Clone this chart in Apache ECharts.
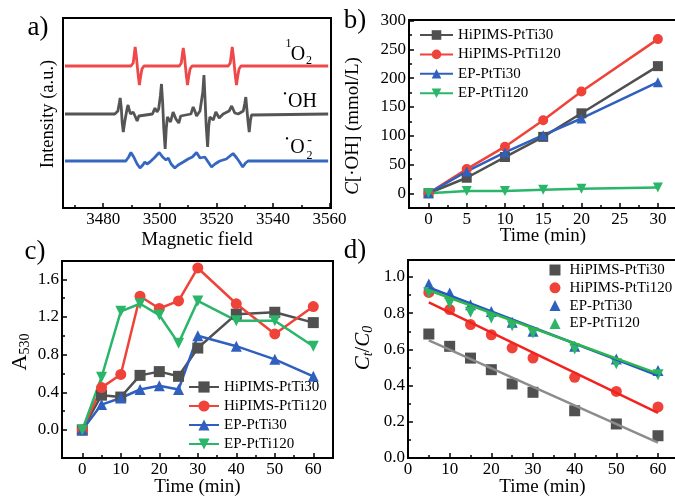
<!DOCTYPE html>
<html>
<head>
<meta charset="utf-8">
<script src="https://cdn.jsdelivr.net/npm/echarts@6/dist/echarts.min.js"></script>
<style>
    html, body { margin: 0; padding: 0; background: #fff; }
    #main { width: 675px; height: 498px; }
</style>
</head>
<body>
<div id="main"></div>
<script>
// ---- a) EPR spectra, [field, intensity above its own baseline] ----
var spec1O2 = [[3466.5,0],[3489.8,0],[3490.6,3],[3491.0,12],[3491.3,19],[3491.7,10],[3492.05,0],[3492.4,-10],[3492.8,-19],[3493.2,-11],[3493.7,-3],[3494.4,0],
    [3506.9,0],[3507.6,3],[3508.0,12],[3508.3,18],[3508.7,10],[3509.05,0],[3509.4,-10],[3509.8,-19],[3510.2,-11],[3510.7,-3],[3511.4,0],
    [3524.2,0],[3524.9,3],[3525.3,12],[3525.6,19],[3526.0,10],[3526.35,0],[3526.7,-10],[3527.1,-19],[3527.5,-11],[3528.0,-3],[3528.7,0],[3559.5,0]];
var specOH = [[3466.5,0],[3484.1,0],[3485.2,3],[3485.7,11],[3486.0,16],[3486.4,6],[3486.7,-8],[3487.1,-18],[3487.6,-8],[3488.1,0],[3488.5,6],[3488.8,9],[3489.2,4],[3489.7,0],[3490.6,2],[3491.4,-3],[3492.0,-7],[3492.6,-2],[3493.1,0],
    [3497.4,0],[3498.3,6],[3499.0,2],[3499.6,5],[3500.2,18],[3500.6,30],[3501.0,12],[3501.4,-14],[3501.9,-35],[3502.3,-14],[3502.7,-3],[3503.3,-5],[3503.8,-8],[3504.7,2],[3505.7,-5],[3506.7,-9],[3507.4,-2],[3507.9,0],
    [3511.0,0],[3511.8,7],[3512.4,3],[3513.0,-2],[3514.2,3],[3515.2,22],[3515.6,39],[3516.0,15],[3516.4,-12],[3516.9,-33],[3517.3,-12],[3517.7,-3],[3518.9,-6],[3519.8,2],[3521.0,-4],[3522.4,0],
    [3524.5,3],[3525.4,8],[3526.5,1],[3527.7,0],[3529.5,3],[3530.0,10],[3530.4,17],[3530.8,4],[3531.2,-8],[3531.6,-18],[3532.0,-7],[3532.4,-1],[3533.0,0],[3559.5,0]];
var specO2 = [[3466.5,0],[3488.0,0],[3489.0,4],[3489.8,8.5],[3490.8,4],[3492.0,-3],[3493.0,-7],[3494.0,-4],[3494.7,-1],[3495.5,-3],[3496.5,-1],[3498.0,3],[3499.8,8.5],[3501.0,4],[3502.2,1],[3503.0,3],[3504.0,-3],[3505.3,-7],[3506.5,-4],[3508.3,-1],
    [3510.0,2],[3511.5,4],[3513.0,8.5],[3514.2,3],[3514.8,2],[3515.9,4],[3517.1,-1],[3518.3,-6],[3519.5,-3],[3521.2,0],[3523.5,2],[3525.9,7.5],[3527.2,3],[3528.2,-1],[3529.3,-6],[3530.3,-2],[3531.2,0],[3559.5,0]];
var specOffsets = [142, 94, 47];
var fieldTicks = [3480, 3500, 3520, 3540, 3560];
var fieldMinor = [3470, 3490, 3510, 3530, 3550];

// ---- b) C[.OH] vs time ----
var timeB = [0, 5, 10, 15, 20, 30];
var bHiPIMS30 = [0, 27, 63, 98, 139, 221];
var bHiPIMS120 = [0, 42, 81, 127, 177, 268];
var bEP30 = [0, 38, 71, 101, 130, 193];
var bEP120 = [0, 4, 4, 6, 8, 10];
var bxTicks = [0, 5, 10, 15, 20, 25, 30];
var bxMinor = [2.5, 7.5, 12.5, 17.5, 22.5, 27.5];
var byTicks = [0, 50, 100, 150, 200, 250, 300];
var byMinor = [25, 75, 125, 175, 225, 275];

// ---- c) A530 vs time ----
var timeC = [0, 5, 10, 15, 20, 25, 30, 40, 50, 60];
var cHiPIMS30 = [0, 0.37, 0.35, 0.58, 0.62, 0.57, 0.87, 1.23, 1.25, 1.14];
var cHiPIMS120 = [0, 0.45, 0.59, 1.42, 1.29, 1.37, 1.72, 1.34, 1.02, 1.31];
var cEP30 = [0, 0.27, 0.34, 0.43, 0.47, 0.43, 1.0, 0.89, 0.75, 0.57];
var cEP120 = [0, 0.56, 1.26, 1.34, 1.22, 0.92, 1.37, 1.16, 1.16, 0.89];
var cxTicks = [0, 10, 20, 30, 40, 50, 60];
var cxMinor = [5, 15, 25, 35, 45, 55];
var cyTicks = [0, 0.4, 0.8, 1.2, 1.6];
var cyMinor = [0.2, 0.6, 1.0, 1.4];

// ---- d) Ct/C0 vs time with linear fits ----
var timeD = [5, 10, 15, 20, 25, 30, 40, 50, 60];
var dHiPIMS30 = [0.685, 0.617, 0.552, 0.488, 0.409, 0.363, 0.261, 0.188, 0.123];
var dHiPIMS120 = [0.915, 0.82, 0.737, 0.681, 0.608, 0.552, 0.446, 0.368, 0.282];
var dEP30 = [0.961, 0.912, 0.847, 0.81, 0.75, 0.70, 0.617, 0.547, 0.484];
var dEP120 = [0.915, 0.856, 0.805, 0.773, 0.731, 0.69, 0.602, 0.521, 0.46];
var fitX = [5, 60];
var fitHiPIMS30 = [0.65, 0.085];
var fitHiPIMS120 = [0.86, 0.25];
var fitEP30 = [0.942, 0.456];
var fitEP120 = [0.927, 0.466];
var dxTicks = [0, 10, 20, 30, 40, 50, 60];
var dxMinor = [5, 15, 25, 35, 45, 55];
var dyTicks = [0, 0.2, 0.4, 0.6, 0.8, 1.0];
var dyMinor = [0.1, 0.3, 0.5, 0.7, 0.9];

var names = ['HiPIMS-PtTi30', 'HiPIMS-PtTi120', 'EP-PtTi30', 'EP-PtTi120'];
var colors = ['#505050', '#ef4339', '#2f60bf', '#29b668'];
var fitColors = ['#8c8c8c', '#f2231e', '#2656c8', '#2cb64c'];
var symbols = ['rect', 'circle', 'triangle', 'triangle'];
var rotates = [0, 0, 0, 180];

var FAMILY = 'Liberation Serif';
var FONT = '"Liberation Serif", serif';

var chart = echarts.init(document.getElementById('main'));

var grids = [
    { left: 63, top: 18, width: 268, height: 190 },
    { left: 409, top: 20, width: 268, height: 188 },
    { left: 62, top: 261, width: 271, height: 197 },
    { left: 408, top: 260, width: 269, height: 198 }
];
grids.forEach(function (g) {
    g.show = true;
    g.borderColor = '#000';
    g.borderWidth = 2;
    g.containLabel = false;
    g.outerBoundsMode = 'none';
});

var xAxes = [], yAxes = [];
// each panel gets a main axis (labels + major ticks) and a bare one for the minor ticks
function addAxes(list, grid, pos, min, max, major, minor, fmt, name, gap) {
    list.push({
        type: 'value', gridIndex: grid, position: pos, min: min, max: max,
        axisLine: { show: true, onZero: false, lineStyle: { color: '#000', width: 2 } },
        axisTick: { show: major.length > 0, inside: true, length: 5, customValues: major, lineStyle: { color: '#000', width: 1.5 } },
        axisLabel: { show: major.length > 0, customValues: major, formatter: fmt, margin: 3, color: '#000', fontFamily: FAMILY, fontSize: 17 },
        splitLine: { show: false },
        name: name || '', nameLocation: 'middle', nameGap: gap || 0, nameMoveOverlap: false,
        nameTextStyle: { color: '#000', fontFamily: FAMILY, fontSize: 19 }
    });
    list.push({
        type: 'value', gridIndex: grid, position: pos, min: min, max: max, offset: 0,
        axisLine: { show: false, onZero: false },
        axisTick: { show: minor.length > 0, inside: true, length: 3, customValues: minor, lineStyle: { color: '#000', width: 1.5 } },
        axisLabel: { show: false },
        splitLine: { show: false }
    });
}
function intFmt(v) { return String(v); }
function oneDec(v) { return v.toFixed(1); }

addAxes(xAxes, 0, 'bottom', 3465.8, 3560.5, fieldTicks, fieldMinor, intFmt, 'Magnetic field', 23);
addAxes(yAxes, 0, 'left', 0, 190, [], [], intFmt);
addAxes(xAxes, 1, 'bottom', -2.55, 32.5, bxTicks, bxMinor, intFmt, 'Time (min)', 19);
addAxes(yAxes, 1, 'left', -25.6, 301.2, byTicks, byMinor, intFmt);
addAxes(xAxes, 2, 'bottom', -5.27, 65.12, cxTicks, cxMinor, intFmt, 'Time (min)', 20);
addAxes(yAxes, 2, 'left', -0.297, 1.794, cyTicks, cyMinor, oneDec);
addAxes(xAxes, 3, 'bottom', 0, 64.56, dxTicks, dxMinor, intFmt, 'Time (min)', 20);
addAxes(yAxes, 3, 'left', 0, 1.094, dyTicks, dyMinor, oneDec);

var series = [];
// a) spectra
var specs = [spec1O2, specOH, specO2];
var specColors = ['#ef4848', '#555555', '#3567c0'];
specs.forEach(function (s, i) {
    series.push({
        type: 'line', xAxisIndex: 0, yAxisIndex: 0, showSymbol: false, silent: true,
        data: s.map(function (p) { return [p[0], p[1] + specOffsets[i]]; }),
        lineStyle: { color: specColors[i], width: 2.8 }
    });
});

function pair(xs, ys) { return xs.map(function (x, i) { return [x, ys[i]]; }); }

// b) and c) line + symbol series
function linePanel(prefix, axis, xs, sets, size) {
    sets.forEach(function (ys, i) {
        series.push({
            name: prefix + names[i], type: 'line', xAxisIndex: axis, yAxisIndex: axis,
            data: pair(xs, ys), symbol: symbols[i], symbolRotate: rotates[i], symbolSize: size,
            showAllSymbol: true,
            itemStyle: { color: colors[i] }, lineStyle: { color: colors[i], width: 2.5 }
        });
    });
}
linePanel('b:', 2, timeB, [bHiPIMS30, bHiPIMS120, bEP30, bEP120], 10);
linePanel('c:', 4, timeC, [cHiPIMS30, cHiPIMS120, cEP30, cEP120], 11);

// d) scatter + fit lines
[dHiPIMS30, dHiPIMS120, dEP30, dEP120].forEach(function (ys, i) {
    series.push({
        name: 'd:' + names[i], type: 'scatter', xAxisIndex: 6, yAxisIndex: 6,
        data: pair(timeD, ys), symbol: symbols[i], symbolRotate: rotates[i], symbolSize: 11,
        itemStyle: { color: colors[i], opacity: 1 }
    });
});
[fitHiPIMS30, fitHiPIMS120, fitEP30, fitEP120].forEach(function (ys, i) {
    series.push({
        type: 'line', xAxisIndex: 6, yAxisIndex: 6, showSymbol: false, silent: true,
        data: pair(fitX, ys), lineStyle: { color: fitColors[i], width: 2.5 }
    });
});

function legend(prefix, left, top, w, h, gap, padLeft) {
    return {
        orient: 'vertical', left: left, top: top, itemWidth: w, itemHeight: h, itemGap: gap,
        selectedMode: false, padding: 0,
        data: names.map(function (n) { return prefix + n; }),
        formatter: function (n) { return n.slice(2); },
        textStyle: { color: '#000', fontFamily: FAMILY, fontSize: 15, padding: [0, 0, 0, padLeft || 0] }
    };
}

function txt(x, y, s, size, extra) {
    var st = { text: s, x: 0, y: 0, fill: '#000', font: (size || 19) + 'px ' + FONT, align: 'center', verticalAlign: 'middle' };
    if (extra) for (var k in extra) st[k] = extra[k];
    return { type: 'text', x: x, y: y, silent: true, style: st };
}
function vtxt(x, y, s, rich) {
    var t = txt(x, y, s, 19, rich ? { rich: rich } : null);
    t.rotation = Math.PI / 2;
    return t;
}
// rich token: font given as a full css font string
function rs(font, pad) {
    var r = { font: font, fill: '#000' };
    if (pad) r.padding = pad;
    return r;
}

var graphics = [
    // panel letters
    txt(38, 28, 'a)', 27), txt(355, 21, 'b)', 27), txt(35, 252, 'c)', 27), txt(355, 251, 'd)', 27),
    // y axis titles
    vtxt(48.5, 114, '{n|Intensity (a.u.)}', { n: rs('18.5px ' + FONT) }),
    vtxt(353, 126, '{i|C}{n|[·OH] (mmol/L)}', { i: rs('italic 19px ' + FONT), n: rs('19px ' + FONT) }),
    vtxt(20, 352, '{n|A}{s|530}', { n: rs('22px ' + FONT), s: rs('14px ' + FONT, [11, 0, 0, 0]) }),
    vtxt(363, 348, '{i|C}{s|t}{n|/}{i|C}{s|0}', { i: rs('italic 21px ' + FONT), n: rs('21px ' + FONT), s: rs('italic 14px ' + FONT, [11, 0, 0, 0]) }),
    // species labels in a)
    txt(288.5, 43.5, '1', 12), txt(298, 55, 'O', 20), txt(309, 61, '2', 12),
    txt(285, 94, '•', 10), txt(302.5, 102, 'OH', 20),
    txt(287, 139, '•', 10), txt(297.5, 148, 'O', 20), txt(309.5, 156, '2', 12), txt(309.5, 140, '-', 14)
];

chart.setOption({
    animation: false,
    backgroundColor: '#fff',
    textStyle: { fontFamily: FAMILY, color: '#000' },
    grid: grids,
    xAxis: xAxes,
    yAxis: yAxes,
    legend: [
        legend('b:', 419, 27.5, 33, 12, 4.4),
        legend('c:', 188, 379.5, 30, 14, 4),
        legend('d:', 549.5, 262.5, 11, 11, 2.8, 4)
    ],
    series: series,
    graphic: graphics
});
</script>
</body>
</html>
